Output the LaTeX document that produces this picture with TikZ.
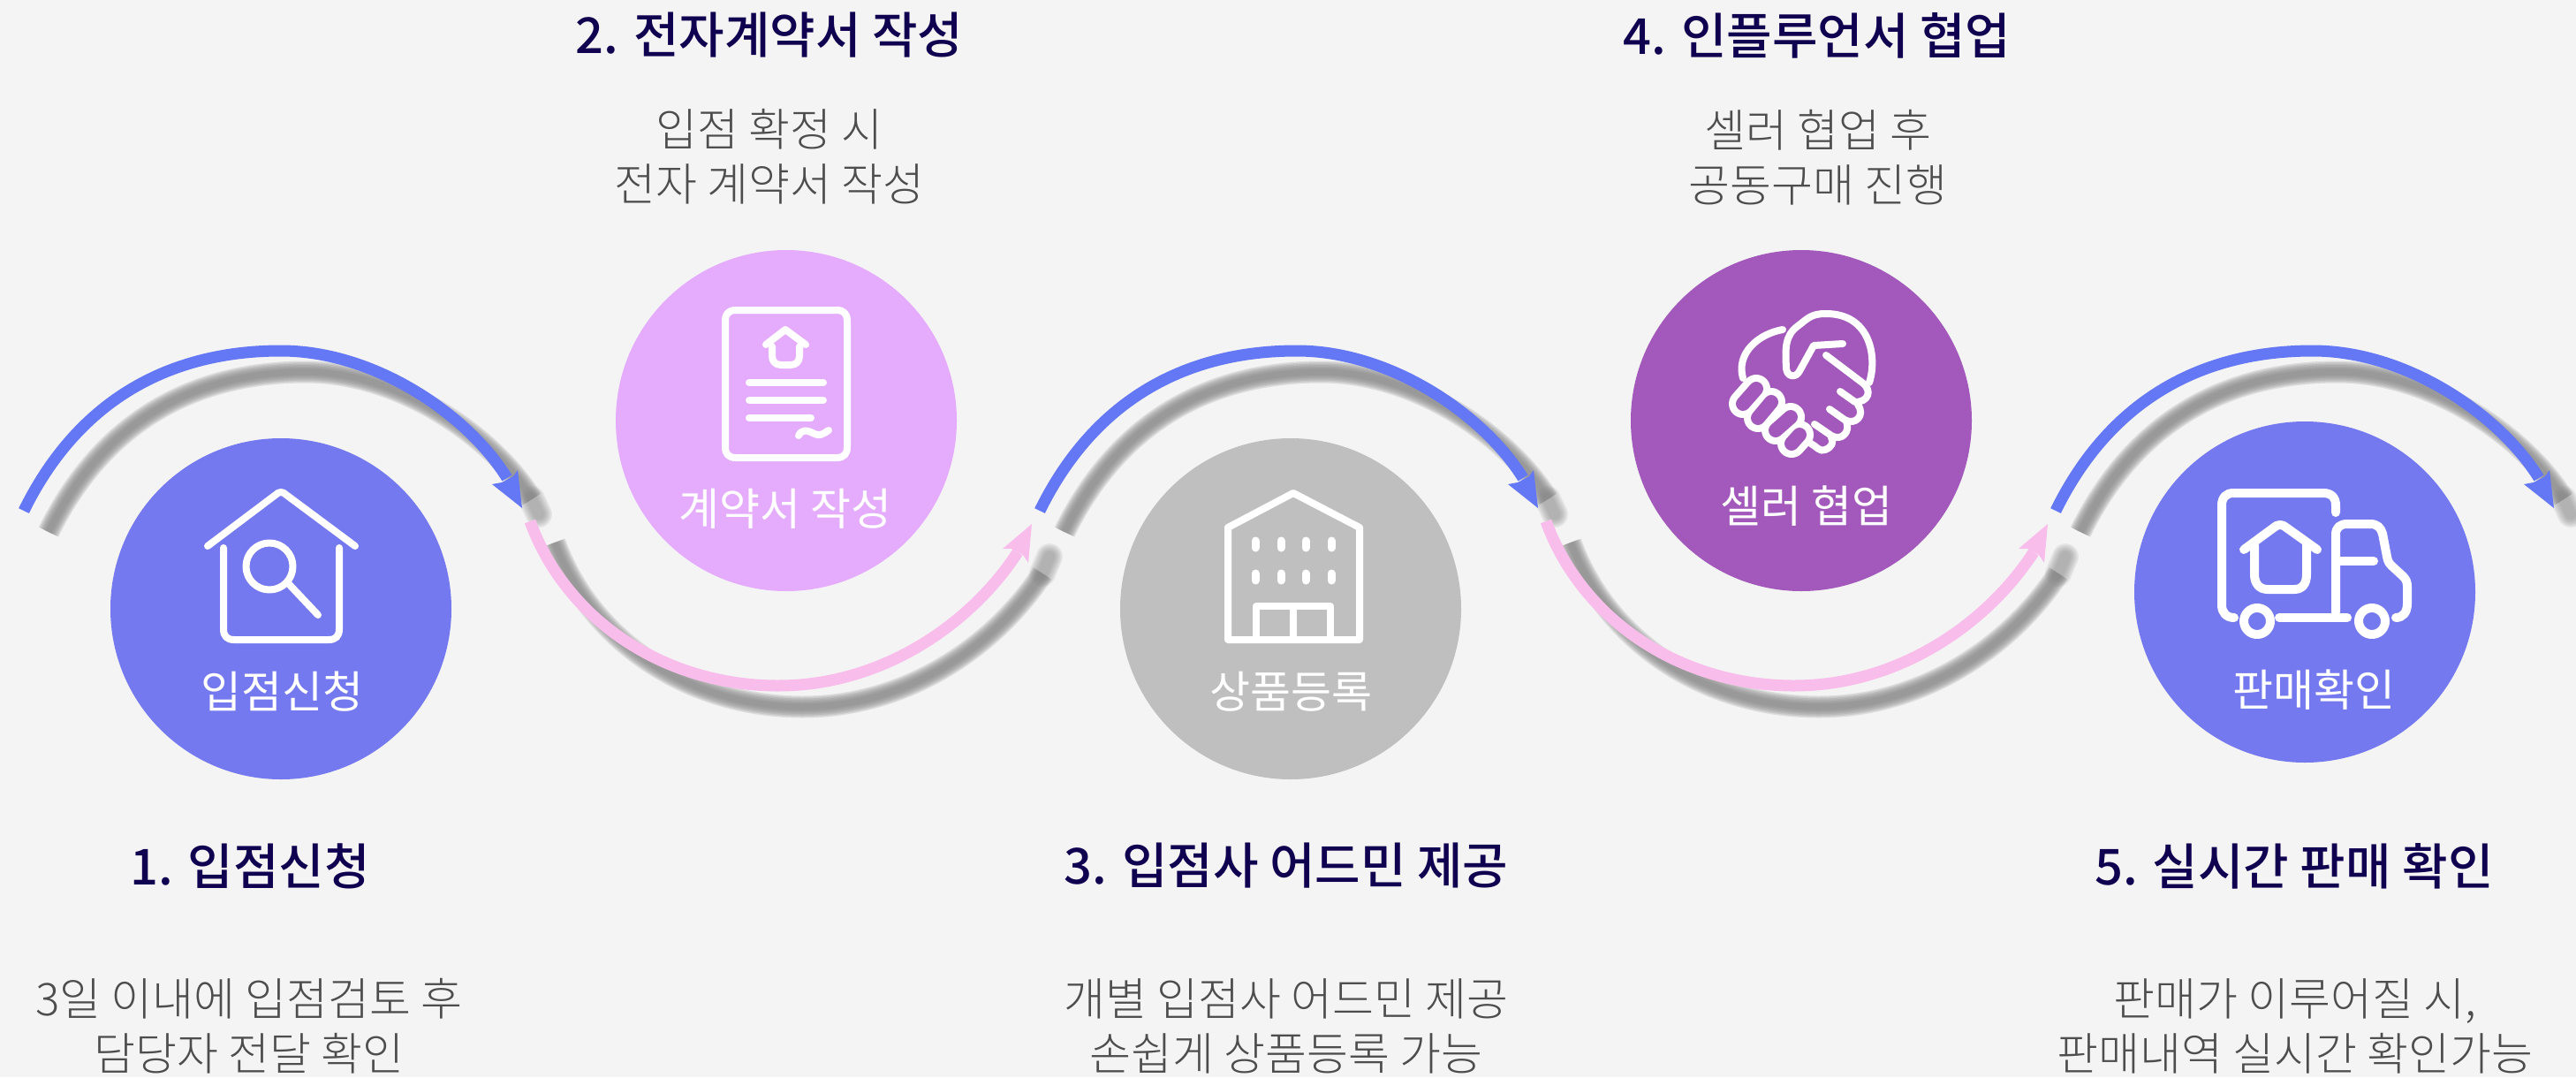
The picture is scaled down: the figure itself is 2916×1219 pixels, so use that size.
\documentclass[tikz,border=0pt]{standalone}
\usepackage{fontspec}
\setmainfont{Noto Sans CJK KR}
\newfontfamily\krlight{Noto Sans CJK KR Light}
\newfontfamily\krmedium{Noto Sans CJK KR Medium}
\definecolor{bgc}{HTML}{F4F4F4}
\definecolor{arcblue}{HTML}{6478F6}
\definecolor{arcpink}{HTML}{F9BDEC}
\definecolor{cblue}{HTML}{7579EF}
\definecolor{clilac}{HTML}{E5ACFE}
\definecolor{cgrey}{HTML}{BFBFBF}
\definecolor{cpurple}{HTML}{A259BB}
\definecolor{headc}{HTML}{0F0050}
\definecolor{bodyc}{HTML}{4D4D4D}
\definecolor{shadc}{HTML}{888888}
\tikzset{
  disc/.style={circle,minimum size=386pt,inner sep=0pt,draw=none},
  disclabel/.style={text=white,inner sep=0pt,font=\fontsize{50}{60}\selectfont},
  headline/.style={text=headc,inner sep=0pt,font=\krmedium\fontsize{56}{66}\selectfont},
  bodytext/.style={text=bodyc,inner sep=0pt,align=center,font=\krlight\fontsize{51}{62}\selectfont},
  icon/.style={draw=white,line width=8pt,line cap=round,line join=round},
  wave/.style={line width=13pt,line cap=butt},
  shadowstroke/.style={shadc,opacity=.22,line cap=butt},
}
\def\bluepath{(27,578) .. controls (90,450) and (195,397) .. (318,397) .. controls (425,397) and (530,470) .. (574,541)}
\def\bluehead{(591,575) -- (557,548) -- (568,546) -- (581,539) -- (586,532) -- cycle}
\def\pinkpath{(600,590) .. controls (640,700) and (750,776) .. (881,776) .. controls (1000,776) and (1100,705) .. (1152,625)}
\def\pinkhead{(1168,593) -- (1135,621) -- (1145,621) -- (1158,628) -- (1164,637) -- cycle}
\begin{document}
\begin{tikzpicture}[x=1pt,y=-1pt]
\useasboundingbox (0,0) rectangle (2916,1219);
\fill[bgc] (0,0) rectangle (2916,1219);
\clip (0,0) rectangle (2916,1219);
% shadows
\foreach \dx in {0,1150,2300}{
  \begin{scope}[shift={(\dx+28,24)}]
    \foreach \w in {25,22,19,16,13,10,7}{
      \draw[shadowstroke,line width=\w pt] \bluepath;
      \draw[shadowstroke,opacity=.12,line width=\w pt+5pt,line cap=round] (574,541) -- (582,558);
    }
  \end{scope}
}
\foreach \dx in {0,1150}{
  \begin{scope}[shift={(\dx+28,24)}]
    \foreach \w in {25,22,19,16,13,10,7}{
      \draw[shadowstroke,line width=\w pt] \pinkpath;
      \draw[shadowstroke,opacity=.12,line width=\w pt+5pt,line cap=round] (1152,625) -- (1160,606);
    }
  \end{scope}
}
% waves
\foreach \dx in {0,1150,2300}{
  \begin{scope}[xshift=\dx pt]
    \draw[arcblue,wave] \bluepath;
    \fill[arcblue] \bluehead;
  \end{scope}
}
\foreach \dx in {0,1150}{
  \begin{scope}[xshift=\dx pt]
    \draw[arcpink,wave] \pinkpath;
    \fill[arcpink] \pinkhead;
  \end{scope}
}
% discs
\node[disc,fill=cblue]   (c1) at (318,689) {};
\node[disc,fill=clilac]  (c2) at (890,476) {};
\node[disc,fill=cgrey]   (c3) at (1461,689) {};
\node[disc,fill=cpurple] (c4) at (2039,476) {};
\node[disc,fill=cblue]   (c5) at (2609,670) {};
% labels in discs
\node[disclabel] (l1) at (319,783) {입점신청};
\node[disclabel] (l2) at (889,576) {계약서 작성};
\node[disclabel] (l3) at (1461,783) {상품등록};
\node[disclabel] (l4) at (2045,573) {셀러 협업};
\node[disclabel] (l5) at (2619,781) {판매확인};
% headings
\node[headline] (h1) at (283,980) {1. 입점신청};
\node[headline] (h2) at (871,40) {2. 전자계약서 작성};
\node[headline] (h3) at (1456,980) {3. 입점사 어드민 제공};
\node[headline] (h4) at (2057,40) {4. 인플루언서 협업};
\node[headline] (h5) at (2597,980) {5. 실시간 판매 확인};
% body
\node[bodytext] (b1) at (282,1161) {3일 이내에 입점검토 후\\담당자 전달 확인};
\node[bodytext] (b2) at (871,177) {입점 확정 시\\전자 계약서 작성};
\node[bodytext] (b3) at (1456,1161) {개별 입점사 어드민 제공\\손쉽게 상품등록 가능};
\node[bodytext] (b4) at (2058,178) {셀러 협업 후\\공동구매 진행};
\node[bodytext] (b5) at (2598,1161) {판매가 이루어질 시,\\판매내역 실시간 확인가능};
% icon 1
\draw[icon] (235,618) -- (312,560) .. controls (316,556) and (320,556) .. (324,560) -- (402,618);
\draw[icon] (253,620) -- (253,712) .. controls (253,720) and (257,724) .. (265,724) -- (372,724) .. controls (380,724) and (384,720) .. (384,712) -- (384,620);
\draw[icon] (305,641) circle (26.5);
\draw[icon] (327,661) -- (360,696);
% icon 2
\draw[icon] (821,363) .. controls (821,355) and (825,351) .. (833,351) -- (947,351) .. controls (955,351) and (959,355) .. (959,363) -- (959,506) .. controls (959,514) and (955,518) .. (947,518) -- (833,518) .. controls (825,518) and (821,514) .. (821,506) -- cycle;
\draw[icon] (867,390) -- (889,373) -- (912,390);
\draw[icon] (874,392) -- (874,403) .. controls (874,409) and (878,413) .. (884,413) -- (895,413) .. controls (901,413) and (905,409) .. (905,403) -- (905,392);
\draw[icon] (848,433) -- (932,433);
\draw[icon] (848,453) -- (932,453);
\draw[icon] (848,473) -- (918,473);
\draw[icon] (904,493) .. controls (908,485) and (914,487) .. (922,491) .. controls (928,494) and (932,491) .. (938,487);
% icon 3
\draw[icon] (1390,724) -- (1390,597) -- (1464,558) -- (1539,597) -- (1539,724) -- cycle;
\foreach \wx in {1421,1450,1478,1507}{
  \draw[icon,line width=9pt] (\wx,612) -- (\wx,620);
  \draw[icon,line width=9pt] (\wx,649) -- (\wx,657);
}
\draw[icon] (1422,724) -- (1422,686) -- (1506,686) -- (1506,724);
\draw[icon] (1464,686) -- (1464,724);
% icon 4
\draw[icon] (2018,373) .. controls (1990,378) and (1965,400) .. (1973,428);
\draw[icon] (2116,433) .. controls (2125,405) and (2118,355) .. (2067,355) .. controls (2050,355) and (2047,360) .. (2035,369) .. controls (2020,380) and (2021,395) .. (2022,417) .. controls (2023,427) and (2033,428) .. (2037,420) -- (2053,391) -- (2086,389);
\draw[icon] (2067,402) -- (2108,433) .. controls (2120,442) and (2115,455) .. (2100,455) -- (2083,443);
\draw[icon] (2071,463) -- (2088,475) .. controls (2100,482) and (2112,470) .. (2103,458);
\draw[icon] (2054,480) -- (2073,493) .. controls (2085,500) and (2095,488) .. (2090,477);
\draw[icon] (2050,502) .. controls (2056,505) and (2060,512) .. (2066,509) .. controls (2074,506) and (2076,500) .. (2073,495);
\foreach \sa/\sb in {{(1973,457)}/{(1988,440)},{(1990,473)}/{(2005,455)},{(2010,487)}/{(2027,472)},{(2028,502)}/{(2037,492)}}{
  \draw[white,line width=32pt,line cap=round] \sa -- \sb;
}
\foreach \sa/\sb in {{(1973,457)}/{(1988,440)},{(1990,473)}/{(2005,455)},{(2010,487)}/{(2027,472)},{(2028,502)}/{(2037,492)}}{
  \draw[cpurple,line width=16pt,line cap=round] \sa -- \sb;
}
% icon 5
\begin{scope}[icon,line width=10pt]
\draw (2529,699) .. controls (2520,699) and (2515,693) .. (2515,685) -- (2515,572) .. controls (2515,563) and (2520,558) .. (2528,558) -- (2630,558) .. controls (2639,558) and (2644,563) .. (2644,572) -- (2644,580);
\draw (2540,622) -- (2574,597) .. controls (2578,593) and (2584,593) .. (2588,597) -- (2623,622);
\draw (2552,617) -- (2552,650) .. controls (2552,661) and (2558,667) .. (2567,667) -- (2597,667) .. controls (2606,667) and (2611,661) .. (2611,650) -- (2611,617);
\draw (2644,693) -- (2644,605) .. controls (2644,597) and (2649,593) .. (2657,593) -- (2683,593) .. controls (2691,593) and (2695,597) .. (2697,604) -- (2702,630) .. controls (2703,636) and (2705,638) .. (2708,641) -- (2720,652) .. controls (2724,656) and (2725,659) .. (2725,664) -- (2725,683) .. controls (2725,693) and (2720,699) .. (2712,699);
\draw (2644,635) -- (2687,635);
\draw (2580,699) -- (2657,699);
\draw (2555,703) circle (15);
\draw (2685,703) circle (15);
\end{scope}
\end{tikzpicture}
\end{document}
